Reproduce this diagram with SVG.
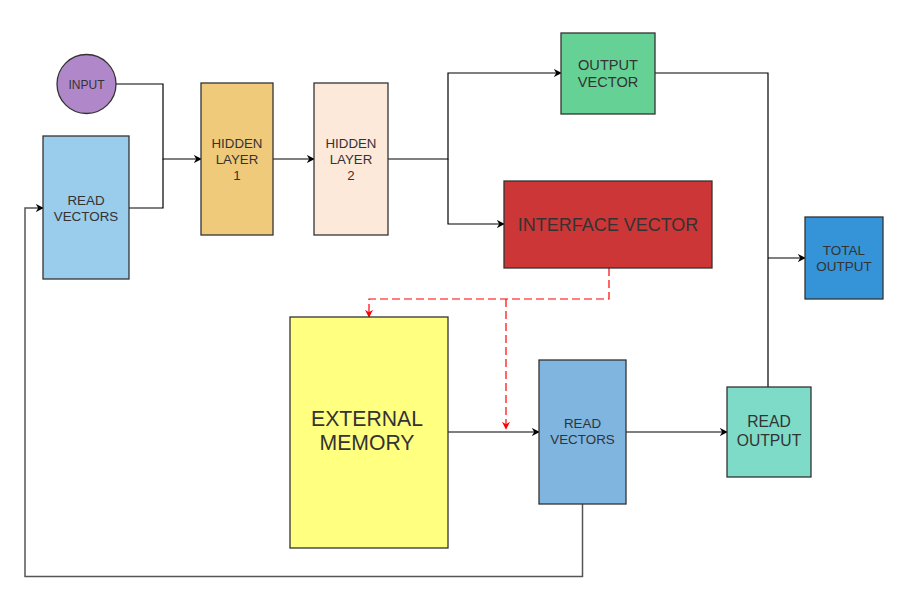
<svg xmlns="http://www.w3.org/2000/svg" width="920" height="603" viewBox="0 0 920 603">
<defs>
<marker id="arr" viewBox="0 0 10 10" refX="9" refY="5" markerWidth="8" markerHeight="8" markerUnits="userSpaceOnUse" orient="auto">
<path d="M0,0 L10,5 L0,10 L3,5 z" fill="#000"/>
</marker>
<marker id="arrRed" viewBox="0 0 10 10" refX="9" refY="5" markerWidth="8" markerHeight="8" markerUnits="userSpaceOnUse" orient="auto">
<path d="M0,0 L10,5 L0,10 L3,5 z" fill="#f00"/>
</marker>
</defs>
<style>
.n{stroke:#333;stroke-width:1.3}
.t{font-family:"Liberation Sans",Arial,sans-serif;fill:#333;text-anchor:middle}
.c{fill:none;stroke:#000;stroke-width:1.2}
.d{fill:none;stroke:#f00;stroke-width:1.2;stroke-dasharray:8 4}
</style>
<rect width="920" height="603" fill="#fff"/>
<g id="connectors">
<path class="c" d="M116,84 H163 V159 H201" marker-end="url(#arr)"/>
<path class="c" d="M129,208 H163 V159"/>
<path class="c" d="M273,159 H314" marker-end="url(#arr)"/>
<path class="c" d="M388,159 H448 V73 H561" marker-end="url(#arr)"/>
<path class="c" d="M448,159 V224 H504" marker-end="url(#arr)"/>
<path class="c" d="M655,73 H768 V387"/>
<path class="c" d="M768,258 H805" marker-end="url(#arr)"/>
<path class="c" d="M448,432 H539" marker-end="url(#arr)"/>
<path class="c" d="M626,432 H727" marker-end="url(#arr)"/>
<path class="c" d="M582.5,504 V576.5 H25 V208 H43" marker-end="url(#arr)" style="stroke:#555;stroke-width:1.5"/>
<path class="d" d="M609,268 V299 H369 V317" marker-end="url(#arrRed)"/>
<path class="d" d="M506,299 V429" marker-end="url(#arrRed)"/>
</g>
<g id="input">
<circle class="n" cx="86.5" cy="84" r="29.5" fill="#B088C9"/>
<text class="t" x="86.5" y="88.5" font-size="12">INPUT</text>
</g>
<g id="read-vectors-left">
<rect class="n" x="43" y="136" width="86" height="143" fill="#9ACCEC"/>
<text class="t" x="86" y="205" font-size="13.4">READ</text>
<text class="t" x="86" y="221" font-size="13.4">VECTORS</text>
</g>
<g id="hidden-layer-1">
<rect class="n" x="201" y="83" width="72" height="152" fill="#F0CA7B"/>
<text class="t" x="237" y="148" font-size="13.3">HIDDEN</text>
<text class="t" x="237" y="164" font-size="13.3">LAYER</text>
<text class="t" x="237" y="180" font-size="13.3">1</text>
</g>
<g id="hidden-layer-2">
<rect class="n" x="314" y="83" width="74" height="152" fill="#FDE9DA"/>
<text class="t" x="351" y="148" font-size="13.3">HIDDEN</text>
<text class="t" x="351" y="164" font-size="13.3">LAYER</text>
<text class="t" x="351" y="180" font-size="13.3">2</text>
</g>
<g id="output-vector">
<rect class="n" x="561" y="33" width="94" height="81" fill="#66D195"/>
<text class="t" x="608" y="69.5" font-size="14.6">OUTPUT</text>
<text class="t" x="608" y="86.5" font-size="14.6">VECTOR</text>
</g>
<g id="interface-vector">
<rect class="n" x="504" y="181" width="208" height="87" fill="#CC3636"/>
<text class="t" x="608" y="231" font-size="18">INTERFACE VECTOR</text>
</g>
<g id="total-output">
<rect class="n" x="805" y="217" width="78" height="82" fill="#3594D7"/>
<text class="t" x="844" y="255" font-size="13.5">TOTAL</text>
<text class="t" x="844" y="271" font-size="13.5">OUTPUT</text>
</g>
<g id="external-memory">
<rect class="n" x="290" y="317" width="158" height="231" fill="#FFFF80"/>
<text class="t" x="367" y="426" font-size="21.2">EXTERNAL</text>
<text class="t" x="367" y="450" font-size="21.2">MEMORY</text>
</g>
<g id="read-vectors-right">
<rect class="n" x="539" y="360" width="87" height="144" fill="#7FB5DE"/>
<text class="t" x="582.5" y="428" font-size="13.4">READ</text>
<text class="t" x="582.5" y="444" font-size="13.4">VECTORS</text>
</g>
<g id="read-output">
<rect class="n" x="727" y="387" width="84" height="90" fill="#7DDBC8"/>
<text class="t" x="769" y="427" font-size="15.7">READ</text>
<text class="t" x="769" y="446" font-size="15.7">OUTPUT</text>
</g>
</svg>
